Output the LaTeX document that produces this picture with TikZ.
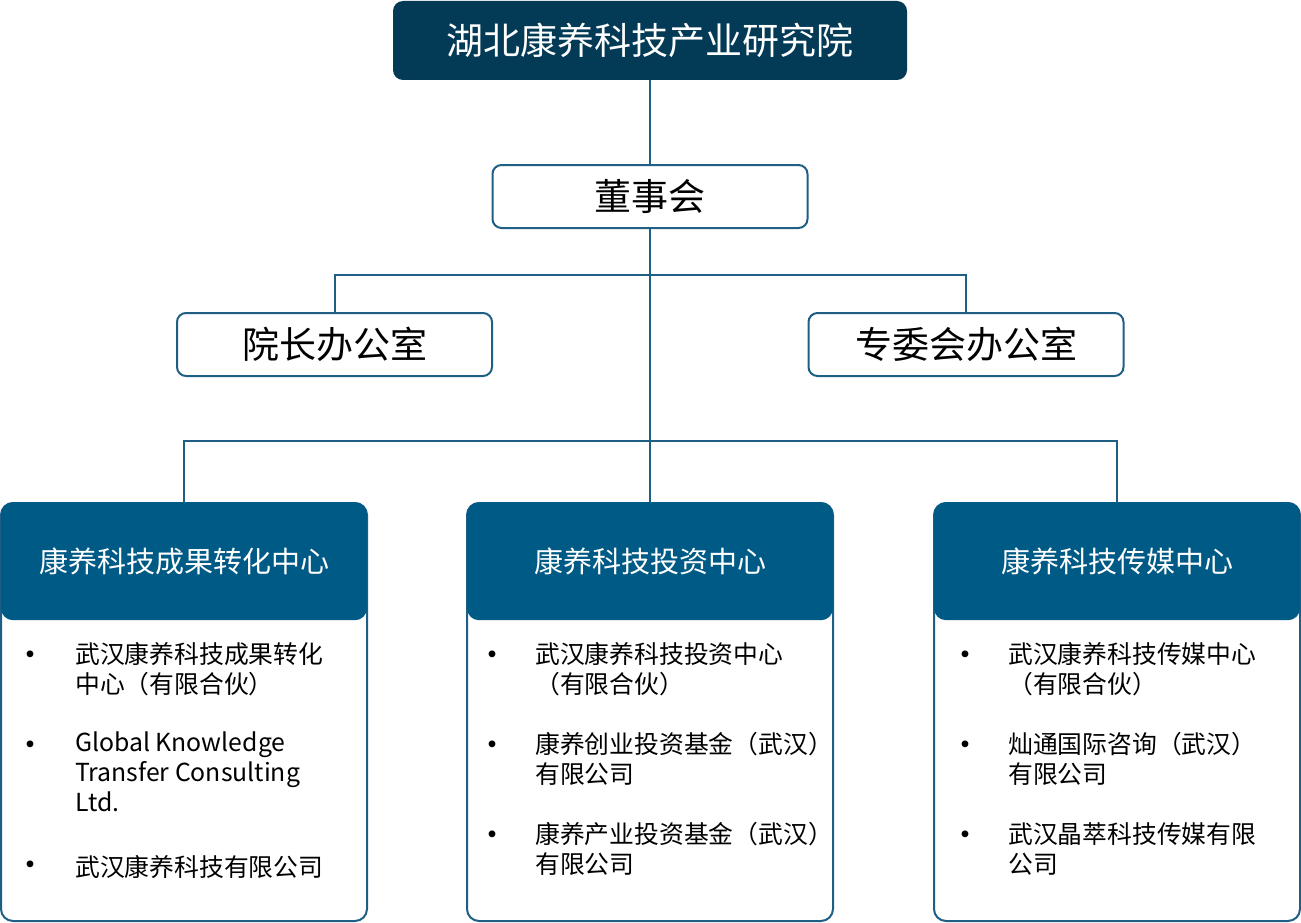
\documentclass[tikz,border=0pt]{standalone}
\usepackage{fontspec}
\setmainfont{Noto Sans CJK SC}
\definecolor{navy}{HTML}{033A55}
\definecolor{headblue}{HTML}{005A86}
\definecolor{lineblue}{HTML}{1F5F86}
\begin{document}
\begin{tikzpicture}[x=1pt,y=-1pt,
  link/.style={draw=lineblue, line width=2pt},
  titlebox/.style={fill=navy, rounded corners=10pt, text=white, minimum width=514pt, minimum height=79pt, font=\fontsize{37}{44}\selectfont},
  officebox/.style={draw=lineblue, line width=2pt, fill=white, rounded corners=9pt, minimum width=315pt, minimum height=63pt, font=\fontsize{37}{44}\selectfont},
  centrebox/.style={draw=lineblue, line width=2pt, fill=white, rounded corners=12pt, minimum width=366pt, minimum height=418pt},
  centrehead/.style={fill=headblue, rounded corners=12pt, text=white, minimum width=366pt, minimum height=118pt, font=\fontsize{29}{35}\selectfont},
  entry/.style={anchor=north west, align=left, inner sep=0pt, font=\fontsize{24.8}{30}\selectfont, execute at begin node=\rule{0pt}{24pt}},
  dot/.style={anchor=base, inner sep=0pt, font=\fontsize{32}{30}\selectfont}]
  \useasboundingbox (0,0) rectangle (1301,923);
  % institute and board (top)
  \node[titlebox] (inst) at (650,40.5) {湖北康养科技产业研究院};
  \node[officebox] (board) at (650,196.5) {董事会};
  % offices
  \node[officebox] (dean) at (334.5,344.5) {院长办公室};
  \node[officebox] (expert) at (966,344.5) {专委会办公室};
  % centre boxes (bottom)
  \node[centrebox] (tbox) at (184,712) {};
  \node[centrehead, anchor=north] (thead) at (tbox.north) {康养科技成果转化中心};
  \node[centrebox] (ibox) at (650,712) {};
  \node[centrehead, anchor=north] (ihead) at (ibox.north) {康养科技投资中心};
  \node[centrebox] (mbox) at (1117,712) {};
  \node[centrehead, anchor=north] (mhead) at (mbox.north) {康养科技传媒中心};
  % connectors
  \coordinate (fork1) at (650,275);
  \coordinate (fork2) at (650,441);
  \draw[link] (inst.south) -- (board.north);
  \draw[link] (board.south) -- (ihead.north);
  \draw[link] (fork1) -| (dean.north);
  \draw[link] (fork1) -| (expert.north);
  \draw[link] (fork2) -| (thead.north);
  \draw[link] (fork2) -| (mhead.north);
  % transfer centre entries
  \node[entry] (t1) at (75,642) {武汉康养科技成果转化\\中心（有限合伙）};
  \node[dot] at ([xshift=-45pt,yshift=-24pt]t1.north west) {•};
  \node[entry] (t2) at (75,732) {Global Knowledge\\Transfer Consulting\\Ltd.};
  \node[dot] at ([xshift=-45pt,yshift=-24pt]t2.north west) {•};
  \node[entry] (t3) at (75,852) {武汉康养科技有限公司};
  \node[dot] at ([xshift=-45pt,yshift=-24pt]t3.north west) {•};
  % investment centre entries
  \node[entry] (i1) at (535,642) {武汉康养科技投资中心\\（有限合伙）};
  \node[dot] at ([xshift=-43pt,yshift=-24pt]i1.north west) {•};
  \node[entry] (i2) at (535,732) {康养创业投资基金（武汉）\\有限公司};
  \node[dot] at ([xshift=-43pt,yshift=-24pt]i2.north west) {•};
  \node[entry] (i3) at (535,822) {康养产业投资基金（武汉）\\有限公司};
  \node[dot] at ([xshift=-43pt,yshift=-24pt]i3.north west) {•};
  % media centre entries
  \node[entry] (m1) at (1008,642) {武汉康养科技传媒中心\\（有限合伙）};
  \node[dot] at ([xshift=-43pt,yshift=-24pt]m1.north west) {•};
  \node[entry] (m2) at (1008,732) {灿通国际咨询（武汉）\\有限公司};
  \node[dot] at ([xshift=-43pt,yshift=-24pt]m2.north west) {•};
  \node[entry] (m3) at (1008,822) {武汉晶萃科技传媒有限\\公司};
  \node[dot] at ([xshift=-43pt,yshift=-24pt]m3.north west) {•};
\end{tikzpicture}
\end{document}
